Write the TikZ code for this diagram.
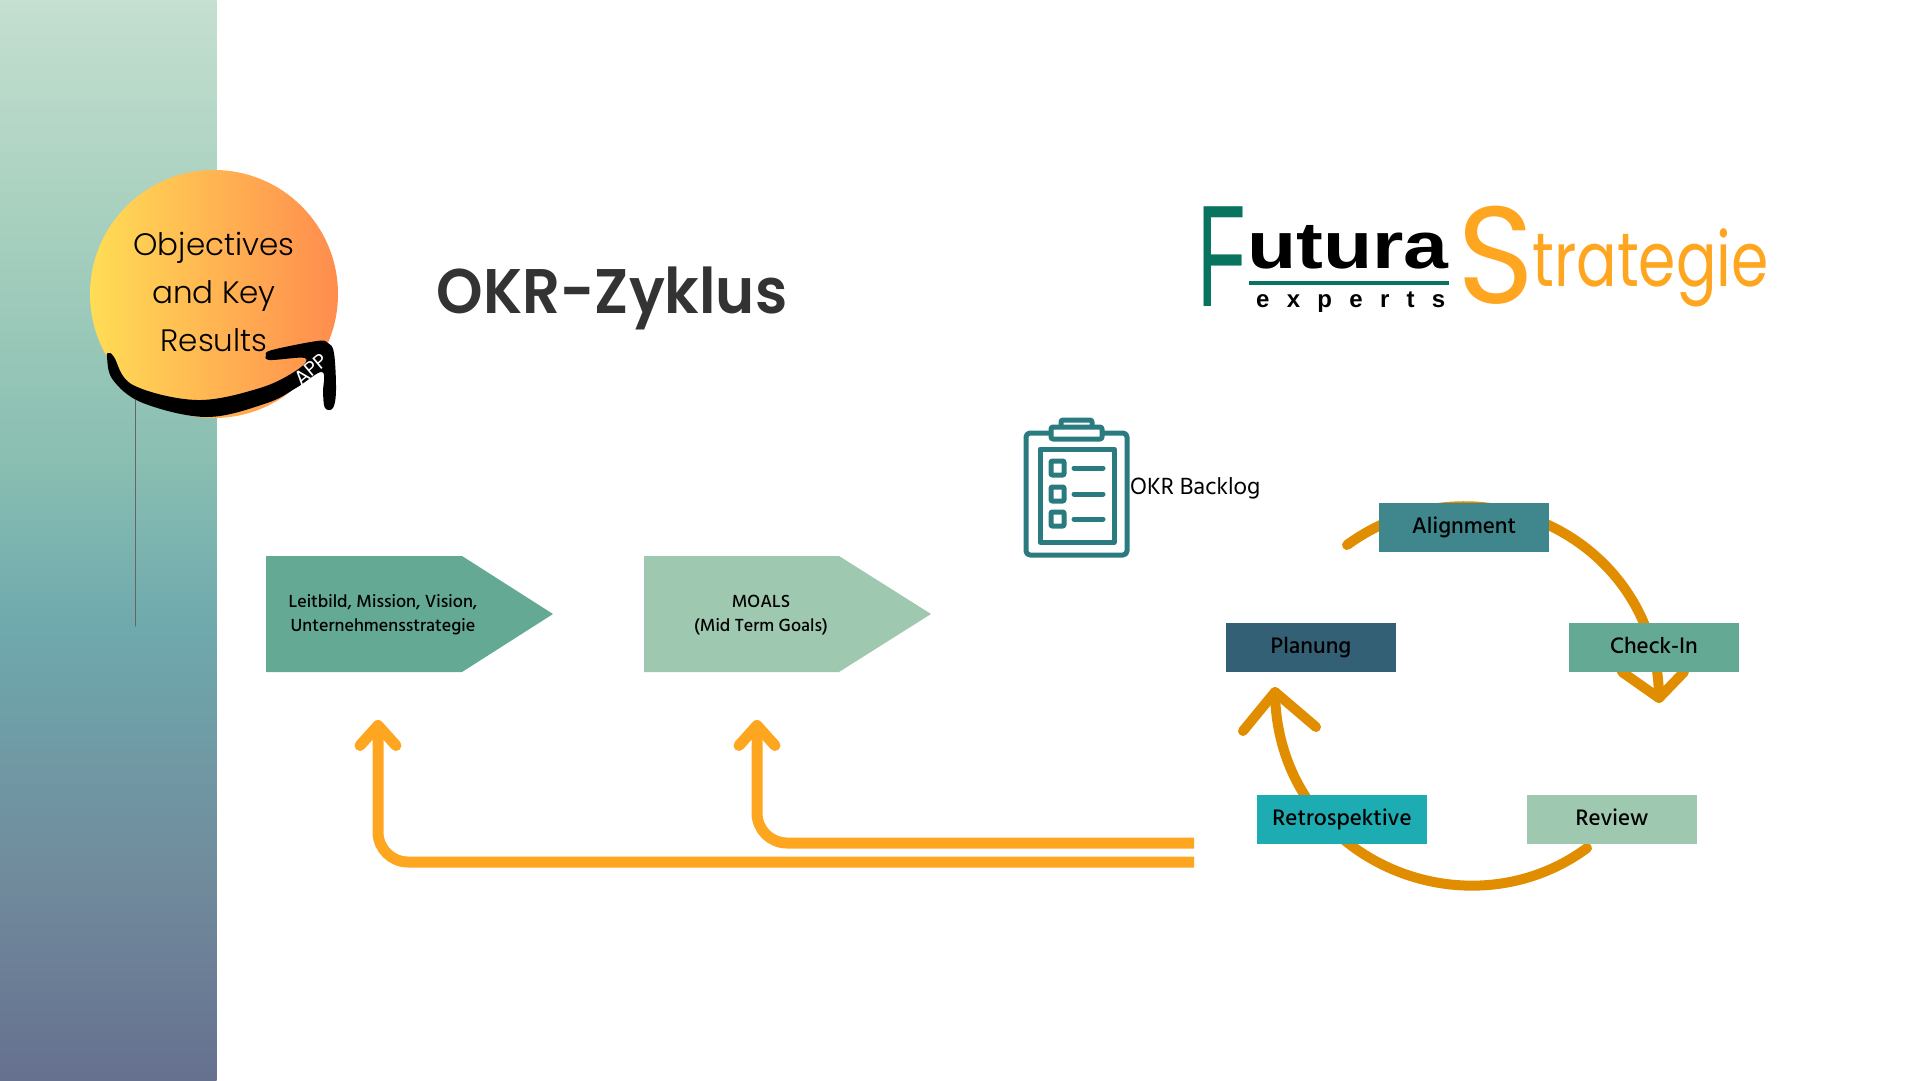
\documentclass[tikz,border=0pt]{standalone}
\usepackage{fontspec}
\usetikzlibrary{arrows.meta}
\setmainfont{Hind Madurai Medium}
\newfontfamily\plainfont{Hind Madurai}
\newfontfamily\ballfont{Poppins Light}
\newfontfamily\titlefont{Poppins SemiBold}
\newfontfamily\logofont{Liberation Sans}
\newfontfamily\brandfont{Poppins}
\definecolor{gold}{HTML}{FFA620}
\definecolor{amber}{HTML}{E08E00}
\definecolor{clipteal}{HTML}{2A7B80}
\definecolor{logoteal}{HTML}{08745F}
\definecolor{dgreen}{HTML}{64A994}
\definecolor{lgreen}{HTML}{9FC8B0}
\definecolor{alignfill}{HTML}{3F878C}
\definecolor{retrofill}{HTML}{1CACB1}
\definecolor{planfill}{HTML}{346075}
\definecolor{bandA}{HTML}{66708F}
\definecolor{bandB}{HTML}{708A9C}
\definecolor{bandC}{HTML}{6FA9AD}
\definecolor{bandD}{HTML}{8ABFB2}
\definecolor{bandE}{HTML}{A8D0BF}
\definecolor{bandF}{HTML}{C5DFD0}
\definecolor{sunA}{HTML}{FFDD55}
\definecolor{sunB}{HTML}{FF8C4E}
\pgfdeclareverticalshading{sidebar}{100bp}{color(0bp)=(bandA);color(25bp)=(bandA);color(34bp)=(bandB);color(46bp)=(bandC);color(54bp)=(bandD);color(65bp)=(bandE);color(75bp)=(bandF);color(100bp)=(bandF)}
\pgfdeclarehorizontalshading{sunball}{100bp}{color(0bp)=(sunA);color(25bp)=(sunA);color(75bp)=(sunB);color(100bp)=(sunB)}
\begin{document}
\begin{tikzpicture}[x=1pt,y=-1pt,line join=round,line cap=round,
 stagebox/.style={minimum width=170pt,minimum height=49pt,inner sep=0pt,text height=17pt,text depth=5pt,font=\fontsize{23}{24}\selectfont},
 arcline/.style={draw=amber,line width=10pt},
 backarrow/.style={draw=gold,line width=11pt,line cap=butt,rounded corners=30pt,-{Straight Barb[length=20pt,width=36pt,round]}},
 cliptool/.style={draw=clipteal,line width=5pt},
 smalltext/.style={font=\fontsize{18}{24}\selectfont,align=center,inner sep=0pt}]
 \useasboundingbox (0,0) rectangle (1920,1080);
 % left band and sun
 \shade[shading=sidebar] (0,0) rectangle (216.5,1080);
 \draw[black!60,line width=1pt] (135,400)--(135,626);
 \shade[shading=sunball] (214,294) circle (124);
 \fill[black] plot[smooth cycle,tension=0.6] coordinates {(109,353) (114,357) (133,385) (197,400) (260,388) (297,370) (305,358) (270,360) (266,355) (272,350) (317,341) (328,343) (334,353) (336,390) (333,408) (325,408) (323,393) (322,372) (296,388) (267,403) (207,417) (143,403) (113,380) (107,357)};
 \node[white,rotate=40,font=\fontsize{20}{22}\selectfont\brandfont,inner sep=0pt] (apptag) at (311,369) {APP};
 \node[align=center,inner sep=0pt,font=\fontsize{31}{48}\selectfont\ballfont] (ball) at (214,292) {Objectives\\and Key\\Results};
 % title and logo
 \node[inner sep=0pt,xscale=0.94,text=black!80,font=\fontsize{63}{70}\selectfont\titlefont] (title) at (612,298) {OKR-Zyklus};
 \node[anchor=base west,inner sep=0pt,xscale=0.55,text=logoteal,font=\fontsize{145}{145}\logofont] (logof) at (1197,306) {F};
 \node[anchor=base west,inner sep=0pt,xscale=1.22,font=\fontsize{66}{66}\logofont\bfseries] (logou) at (1247,268) {utura};
 \draw[logoteal,line width=3.5pt,line cap=butt] (1249,283)--(1449,283);
 \node[anchor=base west,inner sep=0pt,font=\fontsize{24}{24}\logofont\bfseries\addfontfeature{LetterSpace=72}] (logoe) at (1256,307) {experts};
 \node[anchor=base west,inner sep=0pt,xscale=0.95,text=gold,font=\fontsize{138}{138}\brandfont] (logos) at (1457,303) {S};
 \node[anchor=base west,inner sep=0pt,xscale=0.79,text=gold,font=\fontsize{76}{76}\brandfont] (logot) at (1532,286) {trategie};
 % pentagons
 \fill[dgreen] (266,556)--(462,556)--(553,614)--(462,672)--(266,672)--cycle;
 \fill[lgreen] (644,556)--(839,556)--(931,614)--(839,672)--(644,672)--cycle;
 \node[smalltext] (mission) at (383,615) {Leitbild, Mission, Vision,\\Unternehmensstrategie};
 \node[smalltext] (moals) at (761,615) {MOALS\\(Mid Term Goals)};
 % backlog clipboard
 \draw[cliptool,fill=white,rounded corners=4pt] (1026,433) rectangle (1127,555);
 \draw[cliptool,rounded corners=2pt] (1061,420) rectangle (1092,428);
 \draw[cliptool,fill=white,rounded corners=2pt] (1051,427) rectangle (1102,439);
 \draw[cliptool] (1040,449) rectangle (1114,542);
 \foreach \ypos in {468,494,519}{
  \draw[cliptool,rounded corners=1pt] (1051,\ypos-7) rectangle (1064,\ypos+7);
  \draw[cliptool] (1074,\ypos)--(1103,\ypos);
 }
 \node[anchor=west,inner sep=0pt,font=\fontsize{24}{24}\plainfont] (backlog) at (1130,488) {OKR Backlog};
 % cycle
 \coordinate (arcA) at (1347,545);
 \coordinate (tipA) at (1659,698);
 \coordinate (arcB) at (1587,848);
 \coordinate (tipB) at (1275,692);
 \draw[arcline] (arcA) .. controls (1476,451) and (1658,538) .. (tipA);
 \draw[arcline] (1622,672)--(tipA)--(1684,672);
 \draw[arcline] (arcB) .. controls (1465,938) and (1277,859) .. (tipB);
 \draw[arcline] (1243,731)--(tipB)--(1316,727);
 \node[stagebox,fill=alignfill] (alignment) at (1464,527.5) {Alignment};
 \node[stagebox,fill=dgreen] (checkin) at (1654,647.5) {Check-In};
 \node[stagebox,fill=lgreen] (review) at (1612,819.5) {Review};
 \node[stagebox,fill=retrofill] (retro) at (1342,819.5) {Retrospektive};
 \node[stagebox,fill=planfill] (planung) at (1311,647.5) {Planung};
 % arrows back to the pentagons
 \coordinate (startA) at (1194,862);
 \coordinate (startB) at (1194,843);
 \coordinate (endA) at (378,720);
 \coordinate (endB) at (757,720);
 \draw[backarrow] (startA)--(378,862)--(endA);
 \draw[backarrow] (startB)--(757,843)--(endB);
\end{tikzpicture}
\end{document}
